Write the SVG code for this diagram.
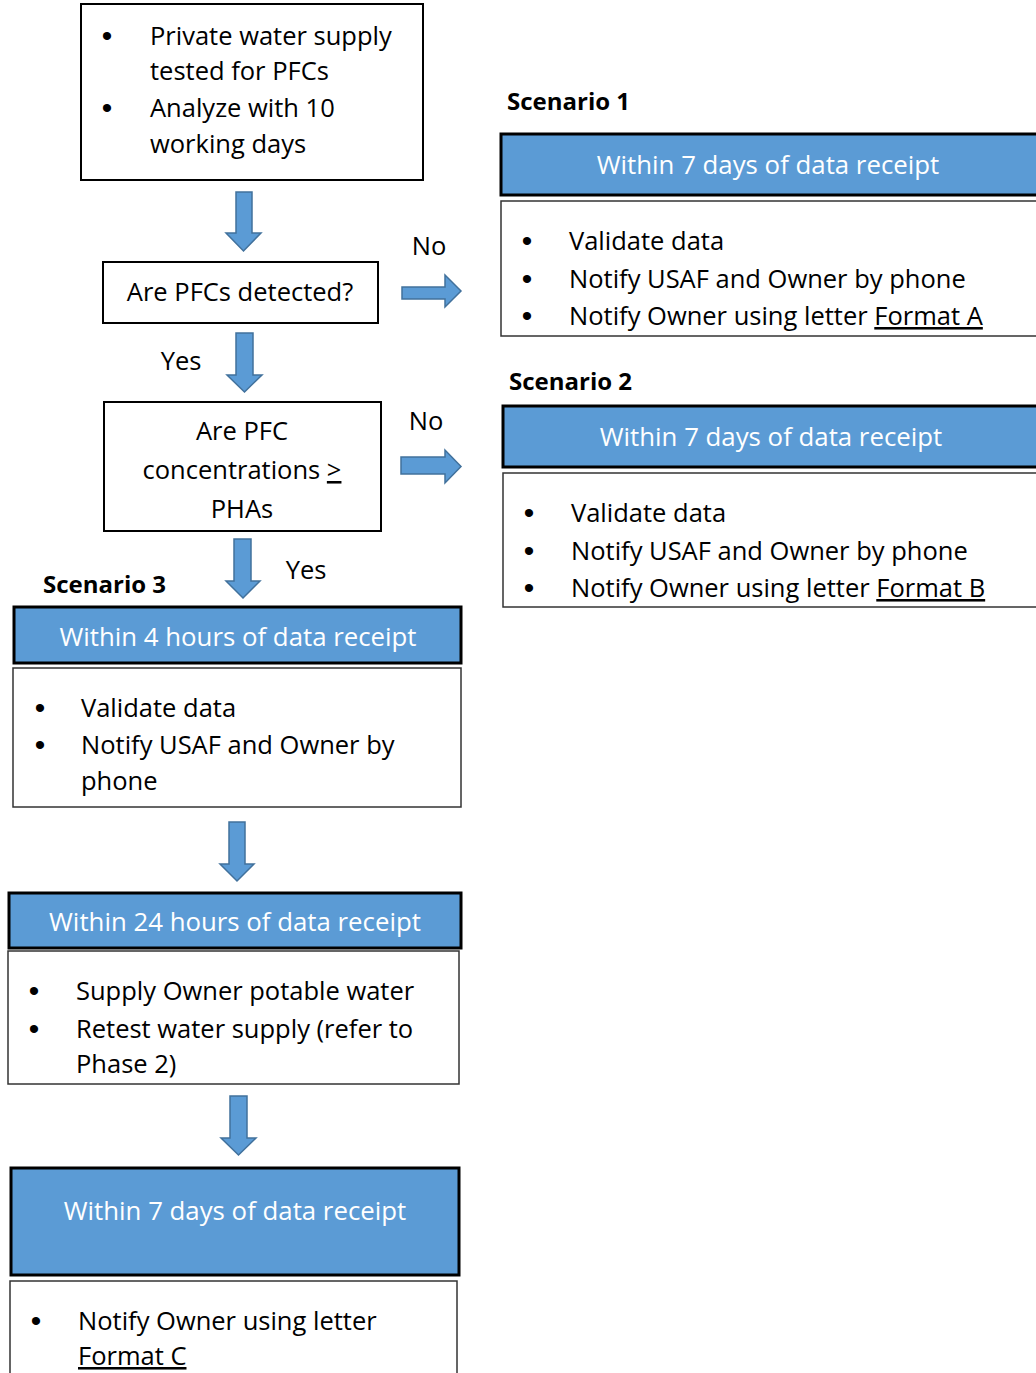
<svg xmlns="http://www.w3.org/2000/svg" width="1036" height="1373" viewBox="0 0 1036 1373">
<style>
text{font-family:"Open Sans","Liberation Sans",sans-serif;fill:#000;font-size:25.5px}
.b{font-family:"Liberation Sans",sans-serif;font-size:30px;text-anchor:middle}
.box{fill:#fff;stroke:#000;stroke-width:2}
.cbox{fill:#fff;stroke:#333;stroke-width:1.5}
.hdr{fill:#5B9BD5;stroke:#000;stroke-width:3}
.ht{fill:#fff;font-size:25.8px;text-anchor:middle}
.arr{fill:#5B9BD5;stroke:#41719C;stroke-width:1.5}
.sc{font-weight:bold;font-size:24px}
.c{text-anchor:middle}
.u{text-decoration:underline}
</style>
<rect width="1036" height="1373" fill="#fff"/>
<g id="connectors">
<path class="arr" d="M236,192H252V233H261L243.5,251L226,233H236Z"/>
<path class="arr" d="M236,333H253V375H262L244.5,392L227,375H236Z"/>
<path class="arr" d="M234,539H251V581H260L243,598L226,581H234Z"/>
<path class="arr" d="M229,822H245V864H254L237,881L220,864H229Z"/>
<path class="arr" d="M230,1096H247V1138H256L238.5,1155L221,1138H230Z"/>
<path class="arr" d="M402,287H445V275L461,291L445,307V299H402Z"/>
<path class="arr" d="M401,457H445V450L461,466.5L445,483V474H401Z"/>
<text x="429" y="255" class="c">No</text>
<text x="181" y="370" class="c">Yes</text>
<text x="426" y="430" class="c">No</text>
<text x="306" y="579" class="c">Yes</text>
</g>
<g id="start">
<rect class="box" x="81" y="4" width="342" height="176"/>
<text x="107" y="46" class="b">•</text><text x="150" y="45">Private water supply</text>
<text x="150" y="80">tested for PFCs</text>
<text x="107" y="118" class="b">•</text><text x="150" y="117">Analyze with 10</text>
<text x="150" y="153">working days</text>
</g>
<g id="q1">
<rect class="box" x="103" y="262" width="275" height="61"/>
<text x="240" y="301" class="c">Are PFCs detected?</text>
</g>
<g id="q2">
<rect class="box" x="104" y="402" width="277" height="129"/>
<text x="242" y="440" class="c">Are PFC</text>
<text x="242" y="479" class="c">concentrations <tspan class="u">&gt;</tspan></text>
<text x="242" y="518" class="c">PHAs</text>
</g>
<g id="scenario1">
<text x="507" y="110" class="sc">Scenario 1</text>
<rect class="hdr" x="501" y="134" width="540" height="61"/>
<text x="768" y="174" class="ht">Within 7 days of data receipt</text>
<rect class="cbox" x="501" y="201" width="540" height="135"/>
<text x="527" y="251" class="b">•</text><text x="569" y="250">Validate data</text>
<text x="527" y="289" class="b">•</text><text x="569" y="288">Notify USAF and Owner by phone</text>
<text x="527" y="326" class="b">•</text><text x="569" y="325">Notify Owner using letter <tspan class="u">Format A</tspan></text>
</g>
<g id="scenario2">
<text x="509" y="390" class="sc">Scenario 2</text>
<rect class="hdr" x="503" y="406" width="540" height="61"/>
<text x="771" y="446" class="ht">Within 7 days of data receipt</text>
<rect class="cbox" x="503" y="473" width="540" height="134"/>
<text x="529" y="523" class="b">•</text><text x="571" y="522">Validate data</text>
<text x="529" y="561" class="b">•</text><text x="571" y="560">Notify USAF and Owner by phone</text>
<text x="529" y="598" class="b">•</text><text x="571" y="597">Notify Owner using letter <tspan class="u">Format B</tspan></text>
</g>
<g id="scenario3">
<text x="43" y="593" class="sc">Scenario 3</text>
<rect class="hdr" x="14" y="607" width="447" height="56"/>
<text x="238" y="646" class="ht">Within 4 hours of data receipt</text>
<rect class="cbox" x="13" y="668" width="448" height="139"/>
<text x="40" y="718" class="b">•</text><text x="81" y="717">Validate data</text>
<text x="40" y="755" class="b">•</text><text x="81" y="754">Notify USAF and Owner by</text>
<text x="81" y="790">phone</text>
</g>
<g id="step24h">
<rect class="hdr" x="9" y="893" width="452" height="55"/>
<text x="235" y="931" class="ht">Within 24 hours of data receipt</text>
<rect class="cbox" x="8" y="951" width="451" height="133"/>
<text x="34" y="1001" class="b">•</text><text x="76" y="1000">Supply Owner potable water</text>
<text x="34" y="1039" class="b">•</text><text x="76" y="1038">Retest water supply (refer to</text>
<text x="76" y="1073">Phase 2)</text>
</g>
<g id="step7d">
<rect class="hdr" x="11" y="1168" width="448" height="107"/>
<text x="235" y="1220" class="ht">Within 7 days of data receipt</text>
<rect class="cbox" x="10" y="1281" width="447" height="100"/>
<text x="36" y="1331" class="b">•</text><text x="78" y="1330">Notify Owner using letter</text>
<text x="78" y="1365" class="u">Format C</text>
</g>
</svg>
